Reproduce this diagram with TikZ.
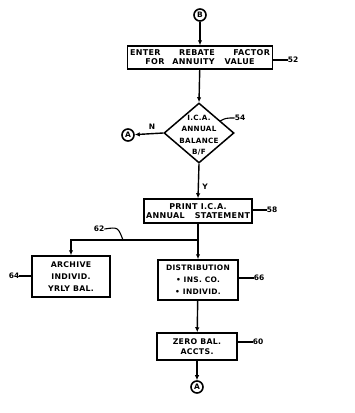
\documentclass[tikz,border=0pt]{standalone}
\usepackage{fontspec}
\setmainfont{DejaVu Sans}
\newfontfamily\flowfont{DejaVu Sans}[LetterSpace=4]
\usetikzlibrary{shapes.geometric,arrows.meta}
\begin{document}
\begin{tikzpicture}[x=1pt,y=-1pt,
  every node/.style={inner sep=0pt},
  txt/.style={font=\flowfont\bfseries\fontsize{8}{11.5}\selectfont, align=center},
  box/.style={draw, line width=1.5pt, rectangle, txt},
  dec/.style={draw, diamond, line width=1.5pt, minimum width=70pt, minimum height=60pt},
  conn/.style={draw, circle, line width=1.6pt, minimum size=12pt, font=\bfseries\fontsize{7.5}{7.5}\selectfont},
  arr/.style={-{Latex[length=5pt,width=4.5pt]}, line width=1.4pt},
  flow/.style={line width=1.4pt},
  lbl/.style={font=\bfseries\fontsize{7.5}{8}\selectfont},
  lead/.style={line width=1.1pt},
]
\useasboundingbox (0,0) rectangle (355,413);

% nodes
\node[conn] (B) at (200,15) {B};
\node[box, minimum width=145pt, minimum height=23pt] (s1) at (200,57.5)
  {\makebox[140pt][s]{ENTER\hfill REBATE\hfill FACTOR}\\[-2.5pt]
   FOR\hspace{8pt}ANNUITY\hspace{10pt}VALUE};
\node[dec] (d) at (199,133) {};
\node[txt, font=\flowfont\bfseries\fontsize{7.2}{11.5}\selectfont] (dt) at (199,135)
  {I.C.A.\\ANNUAL\\BALANCE\\B/F};
\node[conn] (A1) at (128,135) {A};
\node[box, minimum width=108pt, minimum height=24pt] (s2) at (198,211)
  {PRINT I.C.A.\\[-2.5pt]\makebox[104pt][s]{ANNUAL\hfill STATEMENT}};
\coordinate (j) at (198,240);
\node[box, minimum width=78pt, minimum height=41pt, font=\flowfont\bfseries\fontsize{7.8}{12}\selectfont] (arch) at (71,276.5)
  {ARCHIVE\\INDIVID.\\YRLY BAL.};
\node[box, minimum width=80pt, minimum height=40pt, font=\flowfont\bfseries\fontsize{7.5}{12}\selectfont] (dist) at (198,280)
  {DISTRIBUTION\\\textbullet\ INS. CO.\\\textbullet\ INDIVID.};
\node[box, minimum width=80pt, minimum height=27pt, font=\flowfont\bfseries\fontsize{7.8}{9.5}\selectfont] (zero) at (197,346.5)
  {ZERO BAL.\\ACCTS.};
\node[conn] (A2) at (197,387) {A};

% connectors
\draw[arr] (B) -- (s1);
\draw[arr] (s1) -- (d.north);
\draw[arr] (d.west) -- (A1);
\node[lbl] (n) at (152,127) {N};
\draw[arr] (d.south) -- (s2.north);
\node[lbl] (y) at (205,187) {Y};
\draw[flow] (s2.south) -- (j);
\draw[arr] (j) -- (dist.north);
\draw[arr] (j) -| (arch.north);
\draw[arr] (dist) -- (zero);
\draw[arr] (zero) -- (A2);

% reference numerals
\node[lbl] (l52) at (293,60) {52};
\draw[lead] (s1.east |- l52) -- (l52.west);
\node[lbl] (l54) at (240,118) {54};
\draw[lead] (220,121) .. controls (226,118) .. (l54.west);
\node[lbl] (l58) at (272,210) {58};
\draw[lead] (s2.east |- l58) -- (l58.west);
\node[lbl] (l62) at (99,229) {62};
\coordinate (c62) at (123,240);
\draw[lead] (l62.east) .. controls (118,227) .. (c62);
\node[lbl] (l64) at (14,276) {64};
\draw[lead] (l64.east) -- (arch.west |- l64);
\node[lbl] (l66) at (259,278) {66};
\draw[lead] (dist.east |- l66) -- (l66.west);
\node[lbl] (l60) at (258,342) {60};
\draw[lead] (zero.east |- l60) -- (l60.west);
\end{tikzpicture}
\end{document}
